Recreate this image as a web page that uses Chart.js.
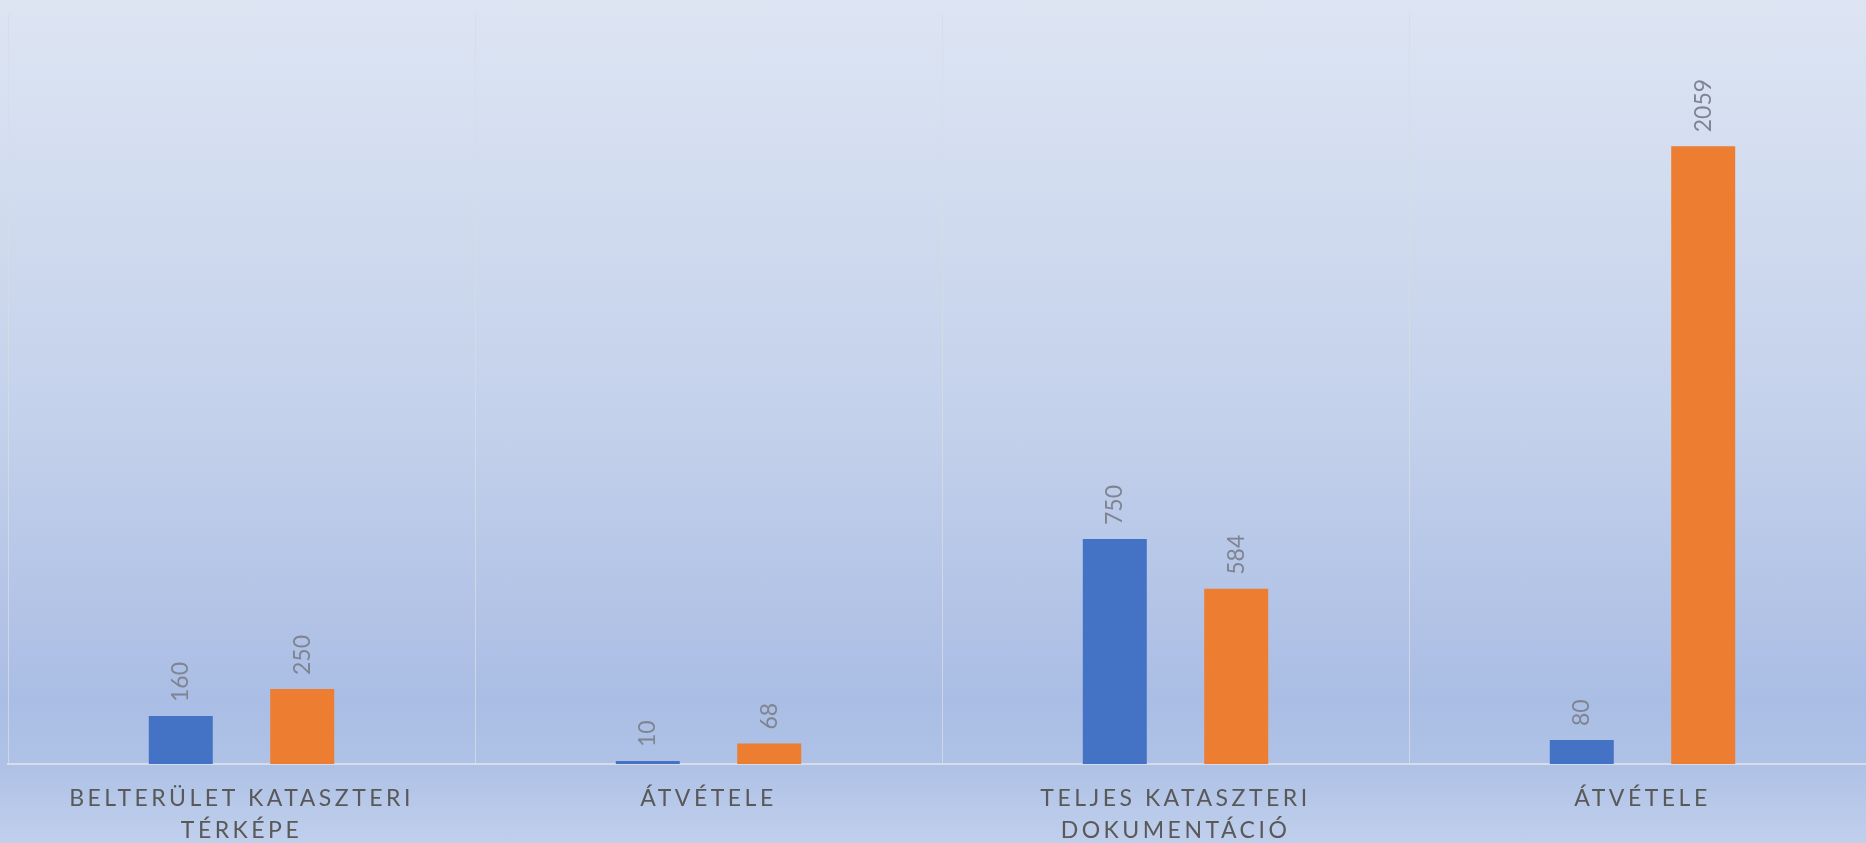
<!DOCTYPE html>
<html>
<head>
<meta charset="utf-8">
<script src="https://cdn.jsdelivr.net/npm/chart.js@4"></script>
<style>
  html, body { margin: 0; padding: 0; overflow: hidden; }
  body {
    width: 1866px; height: 843px;
    background: linear-gradient(to bottom, #dde5f3 0%, #c4d1eb 50%, #aabde4 83%, #afc2e6 91%, #c0cfec 100%);
  }
  #wrap { position: relative; width: 1880px; height: 843px; }
</style>
</head>
<body>
<div id="wrap"><canvas id="chart"></canvas></div>
<script>
const categories = [
  ["BELTERÜLET KATASZTERI", "TÉRKÉPE"],
  ["ÁTVÉTELE"],
  ["TELJES KATASZTERI", "DOKUMENTÁCIÓ"],
  ["ÁTVÉTELE"]
];
const seriesBlue = [160, 10, 750, 80];
const seriesOrange = [250, 68, 584, 2059];

// rotated value labels above each bar
const valueLabels = {
  id: "valueLabels",
  afterDatasetsDraw(chart) {
    const ctx = chart.ctx;
    ctx.save();
    ctx.letterSpacing = "0px";
    ctx.font = "23px Lato";
    ctx.fillStyle = "#7f8491";
    ctx.textAlign = "left";
    ctx.textBaseline = "middle";
    chart.data.datasets.forEach((ds, i) => {
      chart.getDatasetMeta(i).data.forEach((bar, j) => {
        ctx.save();
        ctx.translate(bar.x, bar.y - 14);
        ctx.rotate(-Math.PI / 2);
        ctx.fillText(String(ds.data[j]), 0, 0);
        ctx.restore();
      });
    });
    ctx.restore();
  }
};

// spaced-out category labels
const spacing = {
  id: "spacing",
  beforeDraw(chart) { chart.ctx.letterSpacing = "3.5px"; },
  beforeDatasetsDraw(chart) { chart.ctx.letterSpacing = "0px"; }
};

const data = {
  labels: categories,
  datasets: [
    { label: "A", data: seriesBlue, backgroundColor: "#4472c4" },
    { label: "B", data: seriesOrange, backgroundColor: "#ed7d31" }
  ]
};

const config = {
  type: "bar",
  data,
  plugins: [spacing, valueLabels],
  options: {
    responsive: false,
    animation: false,
    categoryPercentage: 0.52,
    barPercentage: 0.527,
    layout: { padding: { left: 8, right: 4, top: 14, bottom: 0 } },
    plugins: { legend: { display: false }, tooltip: { enabled: false } },
    scales: {
      x: {
        grid: { color: "rgba(215,220,228,0.8)", drawTicks: false, offset: true },
        border: { color: "#d6dde8", width: 2 },
        ticks: {
          color: "#595959",
          font: { family: "Lato", size: 23, lineHeight: 1.4 },
          padding: 18,
          maxRotation: 0,
          autoSkip: false
        },
        afterFit: (scale) => { scale.height = 79; }
      },
      y: {
        display: false,
        min: 0,
        max: 2500
      }
    }
  }
};

const canvas = document.getElementById("chart");
canvas.width = 1880;
canvas.height = 843;
const myChart = new Chart(canvas, config);
</script>
</body>
</html>
